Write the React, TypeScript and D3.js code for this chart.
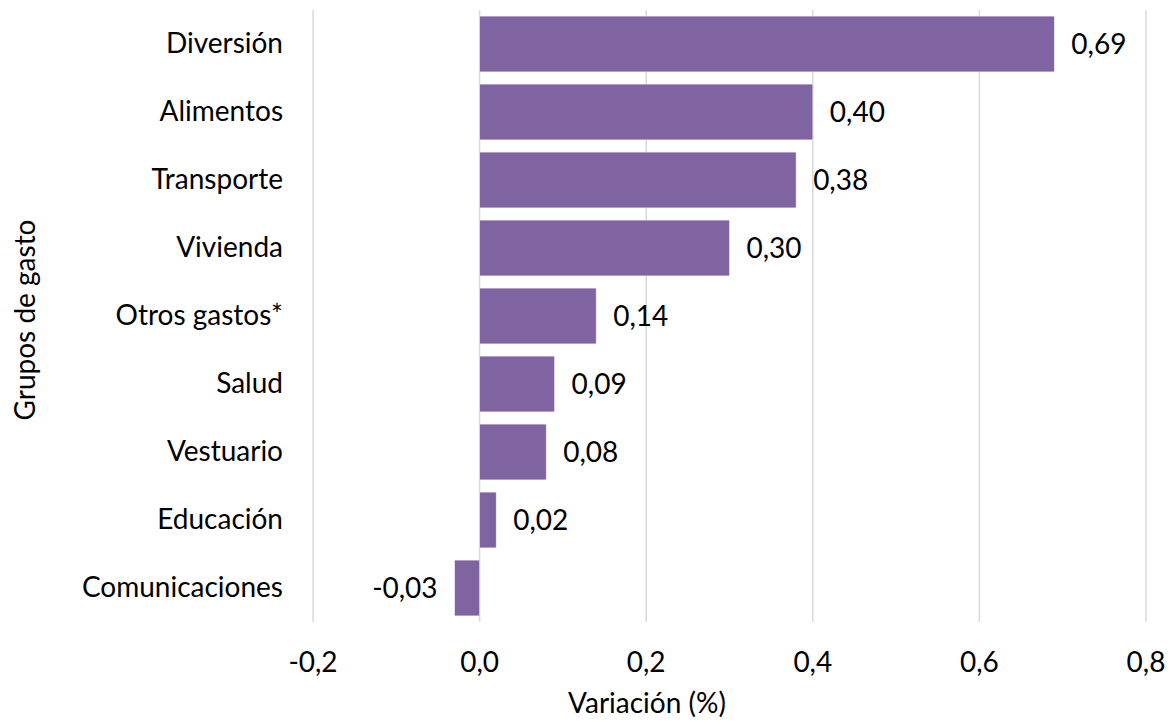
import React from "react";
import * as d3 from "d3";

const categories = ["Diversión", "Alimentos", "Transporte", "Vivienda", "Otros gastos*", "Salud", "Vestuario", "Educación", "Comunicaciones"];
const values = [0.69, 0.40, 0.38, 0.30, 0.14, 0.09, 0.08, 0.02, -0.03];
const xTicks = [-0.2, 0, 0.2, 0.4, 0.6, 0.8];

const W = 1170, H = 722;
const FONT = "Lato, 'Open Sans', sans-serif";
const FS = 28;
const fmt = (v: number, d: number) => v.toFixed(d).replace(".", ",");

export default function App() {
  const x = d3.scaleLinear().domain([-0.2, 0.8]).range([313, 1146]);
  const y = d3.scaleBand<string>().domain(categories).range([10, 622]).paddingInner(0.18).paddingOuter(0.09);
  const x0 = x(0);
  return (
    <svg width={W} height={H} style={{ position: "absolute", left: 0, top: 0, fontFamily: FONT }}>
      <rect width={W} height={H} fill="#fff" />
      {xTicks.map((t) => (
        <g key={t}>
          <line x1={x(t)} x2={x(t)} y1={10} y2={622} stroke="#d9d9d9" strokeWidth={1.5} />
          <text x={x(t)} y={672} textAnchor="middle" fontSize={FS} fill="#000">{fmt(t, 1)}</text>
        </g>
      ))}
      {categories.map((c, i) => {
        const v = values[i];
        const bx = v >= 0 ? x0 : x(v);
        const bw = Math.abs(x(v) - x0);
        const cy = (y(c) as number) + y.bandwidth() / 2;
        return (
          <g key={c}>
            <rect x={bx} y={y(c)} width={bw} height={y.bandwidth()} fill="#8064a2" stroke="#ffffff" strokeOpacity={0.6} strokeWidth={0.8} />
            <text x={283} y={cy + 9} textAnchor="end" fontSize={FS} fill="#000">{c}</text>
            <text x={v >= 0 ? x(v) + 17 : x(v) - 17} y={cy + 10} textAnchor={v >= 0 ? "start" : "end"} fontSize={FS} fill="#000">{fmt(v, 2)}</text>
          </g>
        );
      })}
      <text x={647} y={713} textAnchor="middle" fontSize={FS} fill="#000">Variación (%)</text>
      <text transform={`translate(35,320) rotate(-90)`} textAnchor="middle" fontSize={FS} fill="#000">Grupos de gasto</text>
    </svg>
  );
}
